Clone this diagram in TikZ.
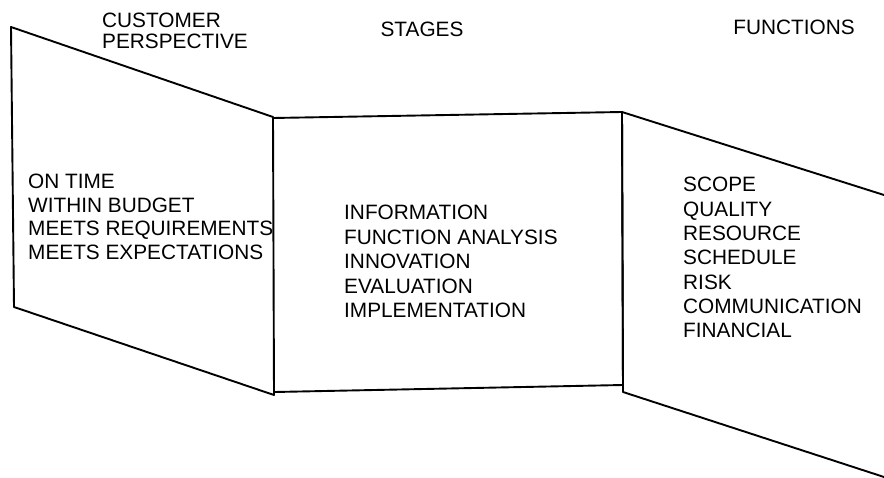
\documentclass[tikz,border=0pt]{standalone}
\usepackage{fontspec}
\setmainfont{Liberation Sans}
\begin{document}
\begin{tikzpicture}[x=1pt,y=-1pt,
  panel/.style={line width=1.9pt, line join=round, line cap=round},
  label/.style={anchor=base west, inner sep=0pt, font=\fontsize{20.8}{24}\selectfont},
  head/.style={inner sep=0pt, font=\fontsize{20.8}{24}\selectfont}]
\useasboundingbox[fill=white] (0,0) rectangle (884,478);

% corner points of the three folding panels
\coordinate (la) at (11,27);
\coordinate (lb) at (273,117);
\coordinate (lc) at (274,395);
\coordinate (ld) at (14,307);
\coordinate (ma) at (273,118);
\coordinate (mb) at (622,112);
\coordinate (mc) at (623,385);
\coordinate (md) at (275,392);
\coordinate (rb) at (623,392);
\coordinate (re) at (884,195);
\coordinate (rf) at (884,477);

% left panel
\draw[panel] (la) -- (lb) -- (lc) -- (ld) -- cycle;
% middle panel
\draw[panel] (ma) -- (mb) -- (mc) -- (md);
% right panel, running off the page
\draw[panel] (re) -- (mb) -- (rb) -- (rf);

% headings
\node[head, anchor=base west] (h1) at (102,28) {CUSTOMER};
\node[head, anchor=base west] (h2) at (102,49) {PERSPECTIVE};
\node[head, anchor=base] (h3) at (422,37) {STAGES};
\node[head, anchor=base] (h4) at (794,35) {FUNCTIONS};

% customer perspective
\foreach \t [count=\i] in {ON TIME, WITHIN BUDGET, MEETS REQUIREMENTS, MEETS EXPECTATIONS}
  \node[label] (c\i) at (28,{189+23.5*(\i-1)}) {\t};

% stages
\foreach \t [count=\i] in {INFORMATION, FUNCTION ANALYSIS, INNOVATION, EVALUATION, IMPLEMENTATION}
  \node[label] (s\i) at (344,{220+24.5*(\i-1)}) {\t};

% functions
\foreach \t [count=\i] in {SCOPE, QUALITY, RESOURCE, SCHEDULE, RISK, COMMUNICATION, FINANCIAL}
  \node[label] (f\i) at (683,{192+24.3*(\i-1)}) {\t};
\end{tikzpicture}
\end{document}
